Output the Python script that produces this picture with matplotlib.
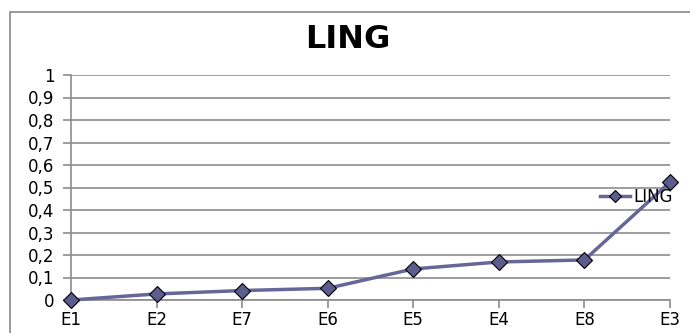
import matplotlib.pyplot as plt
from matplotlib.patches import Rectangle

plt.rcParams['font.family'] = ['DejaVu Sans']

categories = ['E1', 'E2', 'E7', 'E6', 'E5', 'E4', 'E8', 'E3']
values = [0.0, 0.027, 0.042, 0.052, 0.138, 0.169, 0.178, 0.524]
yticks = [0, 0.1, 0.2, 0.3, 0.4, 0.5, 0.6, 0.7, 0.8, 0.9, 1.0]
ylabels = ['0', '0,1', '0,2', '0,3', '0,4', '0,5', '0,6', '0,7', '0,8', '0,9', '1']

fig = plt.figure(figsize=(6.9, 3.33), dpi=100)
ax = fig.add_axes([71 / 690, 1 - 300 / 333, 599 / 690, 225 / 333])

# chart frame (open to the right and bottom, like the cropped original)
fig.patches.append(Rectangle((10 / 690, -0.2), 1.2, 1 - 12 / 333 + 0.2,
                             transform=fig.transFigure, fill=False,
                             edgecolor='#888888', linewidth=1.2))

x = list(range(len(categories)))
ax.plot(x, values, color='#666699', linewidth=2.5, marker='D',
        markersize=8, markerfacecolor='#5c5c8e', markeredgecolor='black',
        markeredgewidth=0.8, clip_on=False, zorder=5, label='LING')

ax.set_xlim(0, len(categories) - 1)
ax.set_ylim(0, 1)
ax.set_yticks(yticks)
ax.set_yticklabels(ylabels)
ax.set_xticks(x)
ax.set_xticklabels(categories)
ax.yaxis.grid(True, color='#8c8c8c', linewidth=1.2)
ax.set_axisbelow(True)

for s in ['top', 'right']:
    ax.spines[s].set_visible(False)
for s in ['left', 'bottom']:
    ax.spines[s].set_color('#8c8c8c')
    ax.spines[s].set_linewidth(1.2)

ax.tick_params(axis='both', colors='#8c8c8c', labelcolor='black',
               labelsize=12, length=6, width=1.2)
ax.tick_params(axis='y', pad=6)
ax.tick_params(axis='x', pad=2)

fig.text(348 / 690, 1 - 40 / 333, 'LING', ha='center', va='center',
         fontsize=23, fontweight='bold')

leg = ax.legend(loc='center left', bbox_to_anchor=(600 / 690, 1 - 197 / 333),
                bbox_transform=fig.transFigure, frameon=False, fontsize=12,
                handlelength=1.8, handletextpad=0.2, borderaxespad=0,
                borderpad=0, markerscale=0.75)

fig.savefig('out.png', dpi=100)
